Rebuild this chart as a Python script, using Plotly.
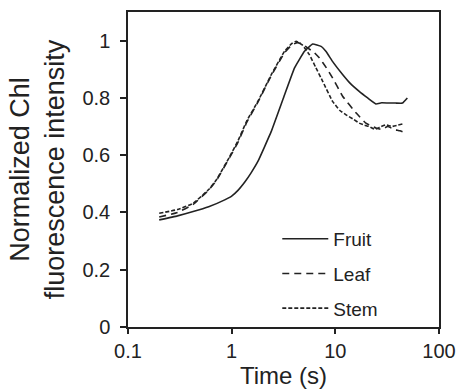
import plotly.graph_objects as go

# Data
fruit_t = [0.2, 0.3, 0.425, 0.6, 0.857, 1.0, 1.15, 1.35, 1.55, 1.79, 2.41, 3.24, 4.04, 5.04, 6.05, 7.28, 8.1, 9.5, 11.8, 14.0, 17.0, 20.5, 24.6, 28.0, 33.0, 38.0, 44.4, 49.5]
fruit_v = [0.374, 0.388, 0.403, 0.42, 0.444, 0.457, 0.477, 0.508, 0.54, 0.578, 0.683, 0.811, 0.905, 0.963, 0.988, 0.98, 0.963, 0.925, 0.881, 0.85, 0.823, 0.80, 0.779, 0.783, 0.782, 0.782, 0.782, 0.80]

leaf_t = [0.2, 0.3, 0.425, 0.6, 0.713, 0.957, 1.15, 1.4, 1.79, 2.41, 3.24, 3.8, 4.3, 4.8, 5.42, 6.2, 7.0, 8.2, 9.4, 11.8, 15.9, 19.7, 24.6, 28.0, 32.0, 37.0, 42.0, 47.7]
leaf_v = [0.384, 0.40, 0.428, 0.478, 0.512, 0.592, 0.645, 0.715, 0.785, 0.878, 0.958, 0.985, 0.993, 0.988, 0.974, 0.96, 0.94, 0.905, 0.87, 0.805, 0.747, 0.712, 0.695, 0.69, 0.70, 0.69, 0.685, 0.677]

stem_t = [0.2, 0.3, 0.425, 0.6, 0.713, 0.957, 1.15, 1.4, 1.79, 2.41, 3.24, 3.8, 4.19, 4.8, 5.62, 6.5, 7.55, 9.4, 11.0, 12.7, 15.0, 17.0, 19.0, 21.3, 24.0, 27.0, 30.7, 35.0, 40.0, 44.4]
stem_v = [0.397, 0.41, 0.432, 0.48, 0.514, 0.595, 0.65, 0.72, 0.788, 0.881, 0.963, 0.99, 0.998, 0.985, 0.951, 0.905, 0.858, 0.788, 0.757, 0.741, 0.725, 0.712, 0.705, 0.70, 0.69, 0.698, 0.706, 0.70, 0.705, 0.709]

x_ticks = [0.1, 1, 10, 100]
x_labels = ["0.1", "1", "10", "100"]
y_ticks = [0, 0.2, 0.4, 0.6, 0.8, 1.0]
y_labels = ["0", "0.2", "0.4", "0.6", "0.8", "1"]

line_color = "#222222"
text_color = "#222222"
font_family = "Liberation Sans, Arial, sans-serif"

fig = go.Figure()
fig.add_trace(go.Scatter(x=fruit_t, y=fruit_v, mode="lines", name="Fruit", legendgroup="a",
                         line=dict(color=line_color, width=1.6, shape="spline", smoothing=0.3)))
fig.add_trace(go.Scatter(x=leaf_t, y=leaf_v, mode="lines", name="Leaf", legendgroup="b",
                         line=dict(color=line_color, width=1.6, dash="7px,5px", shape="spline", smoothing=0.3)))
fig.add_trace(go.Scatter(x=stem_t, y=stem_v, mode="lines", name="Stem", legendgroup="c",
                         line=dict(color=line_color, width=1.6, dash="4px,2px", shape="spline", smoothing=0.3)))

fig.update_layout(
    width=458, height=391,
    margin=dict(l=128, r=19, t=12, b=64),
    paper_bgcolor="white", plot_bgcolor="white",
    font=dict(family=font_family, color=text_color, size=19),
    showlegend=True,
    legend=dict(x=0.48, y=0.34, xanchor="left", yanchor="top",
                bgcolor="rgba(0,0,0,0)", font=dict(size=19, color=text_color),
                tracegroupgap=7, itemwidth=46),
    xaxis=dict(type="log", range=[-1, 2], tickvals=x_ticks, ticktext=x_labels,
               automargin=False,
               showgrid=False, zeroline=False, showline=True, linecolor="#222222", linewidth=1.5,
               mirror=True, ticks="outside", ticklen=5, tickwidth=1.5, tickcolor="#222222",
               tickfont=dict(size=20),
               title=dict(text="Time (s)", font=dict(size=24), standoff=2)),
    yaxis=dict(range=[0, 1.1], tickvals=y_ticks, ticktext=y_labels,
               automargin=False,
               showgrid=False, zeroline=False, showline=True, linecolor="#222222", linewidth=1.5,
               mirror=True, ticks="outside", ticklen=6, tickwidth=1.5, tickcolor="#222222",
               tickfont=dict(size=20), ticklabelstandoff=6,
               title=dict(text="Normalized Chl<br>fluorescence intensity", font=dict(size=27), standoff=10)),
)

# remove the page's default body margin so the figure fills the window exactly; hide the modebar
fig.write_html("out.html",
               config={"displayModeBar": False},
               post_script="document.body.style.margin='0';document.body.style.overflow='hidden';")
